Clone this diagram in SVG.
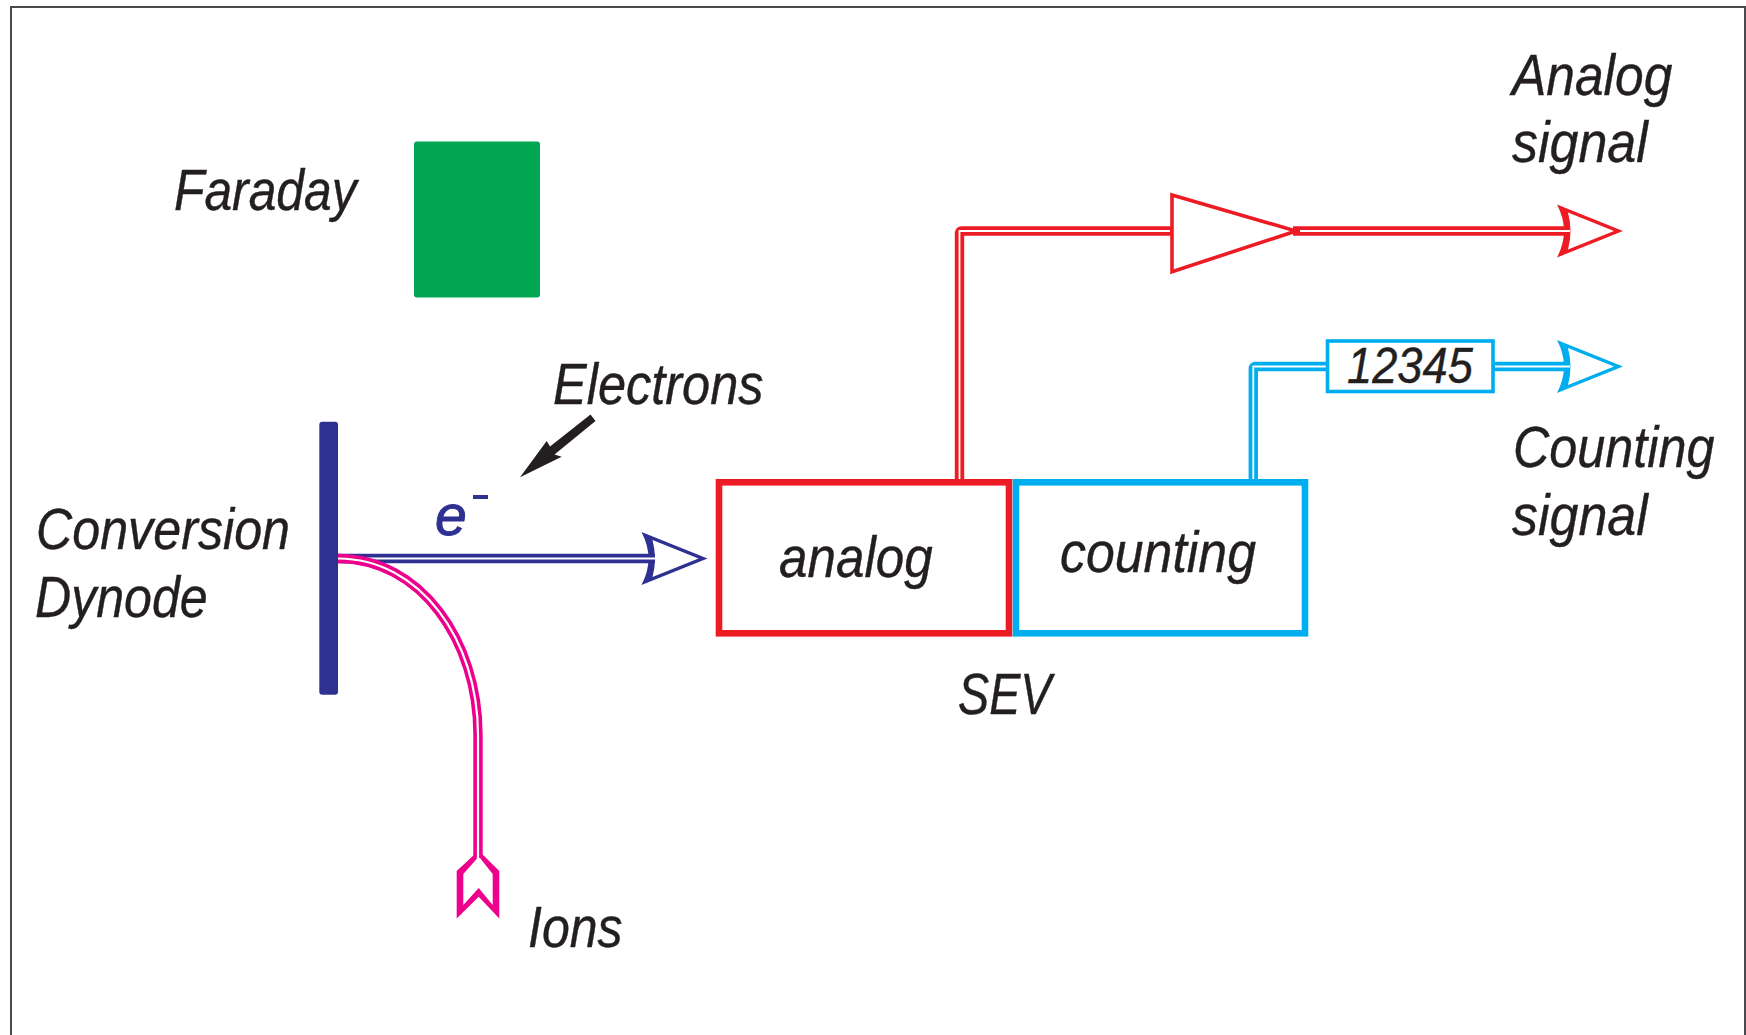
<svg xmlns="http://www.w3.org/2000/svg" xmlns:xlink="http://www.w3.org/1999/xlink" width="1746" height="1035" viewBox="0 0 1746 1035">
<style>
text{font-family:"Liberation Sans",Arial,sans-serif;font-style:italic;font-size:57px;fill:#231f20;stroke:#231f20;stroke-width:.4}
.box{fill:#fff;stroke-width:6.600}
.thin{fill:none;stroke-width:3.600}
.out{fill:none;stroke-width:9.400}
.gap{fill:none;stroke:#fff;stroke-width:1.800}
.gap2{fill:none;stroke:#fff;stroke-width:2.200}
.red{stroke:#ed1c24;color:#ed1c24}
.cyan{stroke:#00aeef;color:#00aeef}
.blue{stroke:#2e3192;color:#2e3192}
.pink{stroke:#ec008c;color:#ec008c}
</style>
<defs>
<g id="head">
<path d="M0,-26.500 L66,0 L0,26.500 Q7,13 7,0 Q7,-13 0,-26.500Z" fill="currentColor" stroke="none"/>
<path d="M11,-18.500 L57,0 L11,18.500 Q13.500,9 13.500,0 Q13.500,-9 11,-18.500Z" fill="#fff" stroke="none"/>
</g>
</defs>
<rect id="frame" x="11" y="7" width="1734" height="1100" fill="#fff" stroke="#4a4a4c" stroke-width="2"/>
<g id="amp"><path d="M1172,195L1296,231L1172,271.700Z" fill="#fff" class="thin red" stroke-miterlimit="12"/></g>
<g id="connectors">
<use xlink:href="#head" href="#head" transform="translate(641.500,558.500)" class="blue"/>
<use xlink:href="#head" href="#head" transform="translate(1557,231)" class="red"/>
<use xlink:href="#head" href="#head" transform="translate(1557,366.500)" class="cyan"/>
<path id="ion-head" fill="#ec008c" fill-rule="evenodd" d="M456.700,871L475,854H482L499.300,871V918.500L478.700,896.700L456.700,918.500ZM463.300,874L477.500,858H480L492.700,874V905L478.700,888L463.300,905Z"/>
<path class="out blue" d="M338,558.500H655"/><path class="gap" d="M338,558.500H655"/>
<path class="out pink" d="M338,558.500C420,558.500 478,640 478,735V856"/><path class="gap2" d="M338,558.500C420,558.500 478,640 478,735V860"/>
<path class="out red" d="M959.500,482V233Q959.500,231 961.500,231H1172"/><path class="gap" d="M959.500,480V231H1170"/>
<path class="out red" d="M1293,231H1570"/><path class="gap" d="M1300,231H1570"/>
<path class="out cyan" d="M1253.300,482V368.500Q1253.300,366.500 1255.300,366.500H1327"/><path class="gap" d="M1253.300,480V366.500H1327"/>
<path class="out cyan" d="M1493,366.500H1570"/><path class="gap" d="M1495,366.500H1570"/>
<path id="electrons-arrow" d="M590.500,414.500L595.500,421L554.500,454.500L561.700,456.700L520,477.300L546.700,441L550,446.500Z" fill="#231f20"/>
</g>
<g id="faraday"><rect x="414" y="141.500" width="126" height="156" rx="3" fill="#00a651"/><text x="174" y="209.500" textLength="182.600" lengthAdjust="spacingAndGlyphs">Faraday</text></g>
<g id="dynode"><rect x="319.300" y="421.700" width="18.700" height="273" rx="3" fill="#2e3192"/><text x="36" y="549" textLength="254" lengthAdjust="spacingAndGlyphs">Conversion</text><text x="35" y="617" textLength="172.600" lengthAdjust="spacingAndGlyphs">Dynode</text></g>
<g id="analog"><rect x="719" y="482.300" width="290" height="151" class="box red"/><text x="779" y="577" textLength="153.700" lengthAdjust="spacingAndGlyphs">analog</text></g>
<g id="counting"><rect x="1016" y="482.300" width="289" height="151" class="box cyan"/><text x="1060" y="572" textLength="196" lengthAdjust="spacingAndGlyphs">counting</text></g>
<g id="counter"><rect x="1327.500" y="341" width="165.500" height="50.500" fill="#fff" class="thin cyan"/><text x="1347" y="383" textLength="125.800" lengthAdjust="spacingAndGlyphs" style="font-size:50px">12345</text></g>
<g id="labels">
<text x="1512" y="95" textLength="160.300" lengthAdjust="spacingAndGlyphs">Analog</text><text x="1512" y="162" textLength="135.800" lengthAdjust="spacingAndGlyphs">signal</text>
<text x="1513" y="467" textLength="201.500" lengthAdjust="spacingAndGlyphs">Counting</text><text x="1512" y="535" textLength="135.800" lengthAdjust="spacingAndGlyphs">signal</text>
<text x="553" y="404" textLength="210.500" lengthAdjust="spacingAndGlyphs">Electrons</text>
<text x="958" y="714" textLength="93.500" lengthAdjust="spacingAndGlyphs">SEV</text>
<text x="528" y="947" textLength="94.600" lengthAdjust="spacingAndGlyphs">Ions</text>
<text x="435" y="535" style="fill:#2e3192;stroke:#2e3192;stroke-width:1">e</text>
<rect x="473" y="495" width="15" height="4" fill="#2e3192"/>
</g>
</svg>
